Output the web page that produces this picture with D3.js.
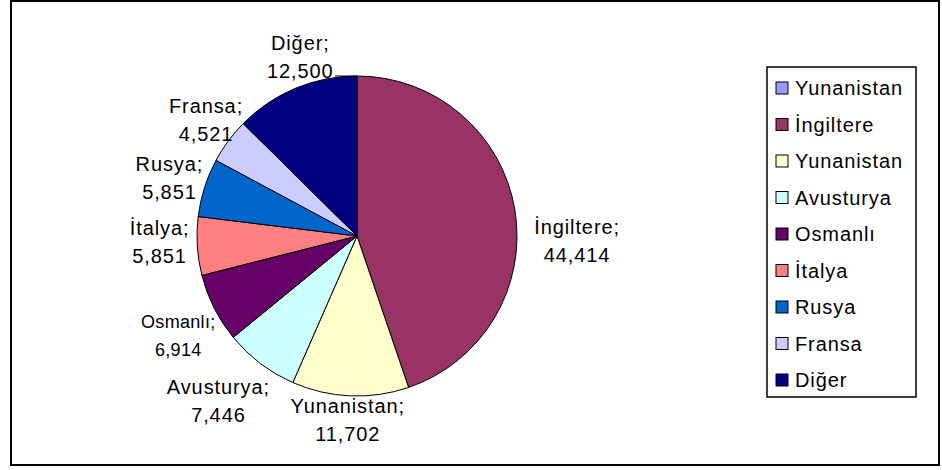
<!DOCTYPE html>
<html>
<head>
<meta charset="utf-8">
<script src="https://cdn.jsdelivr.net/npm/d3@7"></script>
<style>
  body { margin: 0; background: #fff; }
  svg { display: block; }
  text { font-family: "Liberation Sans", Arial, sans-serif; font-size: 20px; fill: #000; letter-spacing: 0.9px; }
  text.small { font-size: 18px; letter-spacing: 0.3px; }
</style>
</head>
<body>
<svg width="942" height="470"></svg>
<script>
// ülkeler ve değerler (ilk "Yunanistan" boş seri, sadece lejantta)
var countries = ["Yunanistan", "İngiltere", "Yunanistan", "Avusturya", "Osmanlı", "İtalya", "Rusya", "Fransa", "Diğer"];
var values = [0, 44414, 11702, 7446, 6914, 5851, 5851, 4521, 12500];
var colors = ["#9999FF", "#993366", "#FFFFCC", "#CCFFFF", "#660066", "#FF8080", "#0066CC", "#CCCCFF", "#000080"];

var svg = d3.select("svg"),
  width = +svg.attr("width"),
  height = +svg.attr("height");

var data = countries.map(function(c, i) {
  return {name: c, value: values[i], color: colors[i]};
});

// chart frame
svg.append("rect")
  .attr("x", 11).attr("y", 1)
  .attr("width", 928).attr("height", 464)
  .attr("fill", "none")
  .attr("stroke", "#000")
  .attr("stroke-width", 2);

var cx = 357, cy = 236, r = 160;
var fmt = d3.format(",");

var pie = d3.pie().sort(null).value(function(d) { return d.value; });
var arcs = pie(data).filter(function(d) { return d.data.value > 0; });
var arc = d3.arc().innerRadius(0).outerRadius(r);

var g = svg.append("g").attr("transform", "translate(" + cx + "," + cy + ")");

g.selectAll("path")
  .data(arcs)
  .enter().append("path")
  .attr("d", arc)
  .attr("fill", function(d) { return d.data.color; })
  .attr("stroke", "#000")
  .attr("stroke-width", 1);

// labels that were dragged by hand in the original sheet
var moved = {
  "İngiltere": [17, 37],
  "Diğer": [19, -5],
  "Osmanlı": [0, 17],
  "Avusturya": [-9, 19],
  "Fransa": [10, -4],
  "İtalya": [-5, -4]
};

// labels: box pushed just outside the pie at the slice's mid angle
var gap = 3, lineH = 28, boxH = 46;
var labels = g.selectAll("g.lbl")
  .data(arcs)
  .enter().append("g")
  .attr("class", "lbl");

labels.each(function(d) {
  var sel = d3.select(this);
  var small = d.data.name === "Osmanlı";
  var t1 = sel.append("text").attr("text-anchor", "middle").classed("small", small).text(d.data.name + ";");
  var t2 = sel.append("text").attr("text-anchor", "middle").classed("small", small).text(fmt(d.data.value));
  var w = Math.max(t1.node().getComputedTextLength(), t2.node().getComputedTextLength());
  var a = (d.startAngle + d.endAngle) / 2;
  var ax = (r + gap) * Math.sin(a), ay = -(r + gap) * Math.cos(a);
  var mx = ax + w / 2 * Math.sin(a), my = ay - boxH / 2 * Math.cos(a);
  var off = moved[d.data.name] || [0, 0];
  mx += off[0];
  var b1 = my - 9 + off[1];
  t1.attr("x", mx).attr("y", b1);
  t2.attr("x", mx).attr("y", b1 + lineH);
});

// leader line of the "Diğer" label to the top of the pie
var dig = arcs.filter(function(d) { return d.data.name === "Diğer"; })[0];
if (dig) {
  g.append("line")
    .attr("x1", -22).attr("y1", -r)
    .attr("x2", 0).attr("y2", -r)
    .attr("stroke", "#000")
    .attr("stroke-width", 1);
}

// legend
var legX = 767, legY = 67, legW = 149, legH = 330, rowH = 36.5;
svg.append("rect")
  .attr("x", legX).attr("y", legY)
  .attr("width", legW).attr("height", legH)
  .attr("fill", "#fff")
  .attr("stroke", "#000")
  .attr("stroke-width", 1.5);

var legend = svg.selectAll("g.leg")
  .data(data)
  .enter().append("g")
  .attr("class", "leg")
  .attr("transform", function(d, i) { return "translate(" + legX + "," + (legY + 21 + i * rowH) + ")"; });

legend.append("rect")
  .attr("x", 9).attr("y", -6)
  .attr("width", 12).attr("height", 12)
  .attr("fill", function(d) { return d.color; })
  .attr("stroke", "#000")
  .attr("stroke-width", 1);

legend.append("text")
  .attr("x", 28).attr("y", 7)
  .text(function(d) { return d.name; });
</script>
</body>
</html>
